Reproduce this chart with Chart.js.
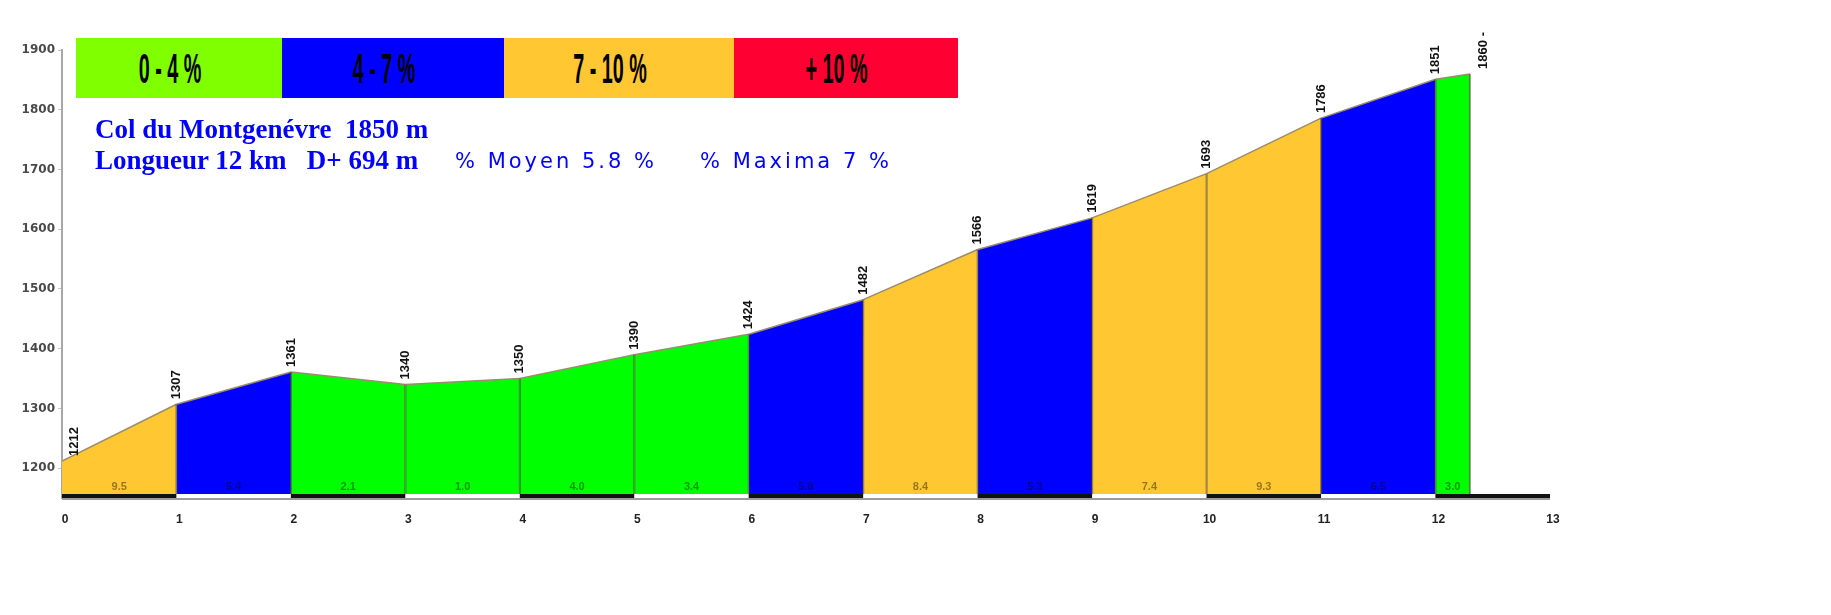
<!DOCTYPE html>
<html>
<head>
<meta charset="utf-8">
<script src="https://cdn.jsdelivr.net/npm/chart.js@4.4.1/dist/chart.umd.min.js"></script>
<style>
  html, body { margin: 0; padding: 0; background: #fff; }
  #wrap { position: relative; width: 1831px; height: 615px; overflow: hidden; }
  #profile { position: absolute; left: 0; top: 0; }
  .legend-box { position: absolute; top: 38px; height: 60px; display: flex; align-items: center; justify-content: center; overflow: hidden; }
  .legend-box span { display: inline-block; font: bold 43px 'Liberation Sans', Arial, sans-serif; color: #000; transform: scaleX(0.46); white-space: pre; margin-right: 18px; }
  .title { position: absolute; left: 95px; color: #0000ff; white-space: pre; line-height: 1; }
  .serif { font: bold 27px 'Liberation Serif', 'Times New Roman', serif; }
  .sans { font: 21px 'DejaVu Sans', sans-serif; letter-spacing: 3px; }
</style>
</head>
<body>
<div id="wrap">
  <canvas id="profile" width="1831" height="615"></canvas>
  <div id="legend"></div>
  <div class="title serif" style="top:114px">Col du Montgenévre  1850 m</div>
  <div class="title serif" style="top:145px">Longueur 12 km   D+ 694 m</div>
  <div class="title sans" style="left:455px;top:149px">% Moyen 5.8 %</div>
  <div class="title sans" style="left:700px;top:149px">% Maxima 7 %</div>
</div>
<script>
// km marks and altitude at each mark (m)
const kmMarks = [0, 1, 2, 3, 4, 5, 6, 7, 8, 9, 10, 11, 12, 12.3];
const elevations = [1212, 1307, 1361, 1340, 1350, 1390, 1424, 1482, 1566, 1619, 1693, 1786, 1851, 1860];
const elevLabels = ['1212', '1307', '1361', '1340', '1350', '1390', '1424', '1482', '1566', '1619', '1693', '1786', '1851', '1860 -'];
// average grade of each section (%)
const grades = [9.5, 5.4, 2.1, 1.0, 4.0, 3.4, 5.8, 8.4, 5.3, 7.4, 9.3, 6.5, 3.0];
const xTicks = [0, 1, 2, 3, 4, 5, 6, 7, 8, 9, 10, 11, 12, 13];
const yTicks = [1200, 1300, 1400, 1500, 1600, 1700, 1800, 1900];
const legendRanges = ['0 - 4 %', '4 - 7 %', '7 - 10 %', '+ 10 %'];

const GREEN = '#00ff00';
const BLUE = '#0000ff';
const ORANGE = '#ffc832';
const RED = '#ff0033';
const LEGEND_COLORS = ['#80ff00', BLUE, ORANGE, RED];
const LEGEND_X = [76, 282, 504, 734, 958];

function gradeColor(g) {
  if (g <= 4) return GREEN;
  if (g <= 7) return BLUE;
  if (g <= 10) return ORANGE;
  return RED;
}

// legend strip
const legendEl = document.getElementById('legend');
legendRanges.forEach((txt, i) => {
  const box = document.createElement('div');
  box.className = 'legend-box';
  box.style.left = LEGEND_X[i] + 'px';
  box.style.width = (LEGEND_X[i + 1] - LEGEND_X[i]) + 'px';
  box.style.background = LEGEND_COLORS[i];
  const s = document.createElement('span');
  s.textContent = txt;
  box.appendChild(s);
  legendEl.appendChild(box);
});

const datasets = grades.map((g, i) => ({
  data: [
    { x: kmMarks[i], y: elevations[i] },
    { x: kmMarks[i + 1], y: elevations[i + 1] },
  ],
  fill: 'start',
  backgroundColor: gradeColor(g),
  borderColor: '#9c8c6c',
  borderWidth: 1.5,
  pointRadius: 0,
  tension: 0,
}));

const profileDecor = {
  id: 'profileDecor',
  afterDatasetsDraw(chart) {
    const { ctx, chartArea, scales } = chart;
    const xs = scales.x, ys = scales.y;
    const bottom = chartArea.bottom;
    ctx.save();

    // section separators
    ctx.strokeStyle = 'rgba(70,60,30,0.55)';
    ctx.lineWidth = 2;
    kmMarks.forEach((k, i) => {
      if (i === 0) return;
      const px = xs.getPixelForValue(k);
      ctx.beginPath();
      ctx.moveTo(px, ys.getPixelForValue(elevations[i]));
      ctx.lineTo(px, bottom);
      ctx.stroke();
    });

    // km bar along the bottom
    for (let k = 0; k < xTicks.length - 1; k++) {
      const x0 = xs.getPixelForValue(xTicks[k]);
      const x1 = xs.getPixelForValue(xTicks[k + 1]);
      ctx.fillStyle = k % 2 === 0 ? '#111' : '#fff';
      ctx.fillRect(x0, bottom - 4, x1 - x0, 4);
    }
    ctx.fillStyle = '#9a9a9a';
    ctx.fillRect(xs.getPixelForValue(0), bottom, xs.getPixelForValue(13) - xs.getPixelForValue(0), 2);

    // grade labels
    ctx.font = "bold 11px 'Liberation Sans', Arial, sans-serif";
    ctx.textAlign = 'center';
    ctx.textBaseline = 'middle';
    ctx.fillStyle = 'rgba(0,0,0,0.42)';
    grades.forEach((g, i) => {
      const cx = (xs.getPixelForValue(kmMarks[i]) + xs.getPixelForValue(kmMarks[i + 1])) / 2;
      ctx.fillText(g.toFixed(1), cx, bottom - 11);
    });

    // altitude labels, vertical
    ctx.font = "bold 13px 'Liberation Sans Narrow', 'Liberation Sans', Arial, sans-serif";
    ctx.fillStyle = '#111';
    ctx.textAlign = 'left';
    elevLabels.forEach((t, i) => {
      let px = xs.getPixelForValue(kmMarks[i]);
      const py = ys.getPixelForValue(elevations[i]);
      if (i === 0) px += 12;
      if (i === elevLabels.length - 1) px += 14;
      ctx.save();
      ctx.translate(px, py - 5);
      ctx.rotate(-Math.PI / 2);
      ctx.fillText(t, 0, 0);
      ctx.restore();
    });
    ctx.restore();
  }
};

new Chart(document.getElementById('profile'), {
  type: 'line',
  data: { datasets },
  plugins: [profileDecor],
  options: {
    responsive: false,
    animation: false,
    layout: { padding: { left: 0, right: 281, top: 50, bottom: 0 } },
    plugins: { legend: { display: false }, tooltip: { enabled: false } },
    scales: {
      x: {
        type: 'linear',
        min: 0,
        max: 13,
        afterBuildTicks: (s) => { s.ticks = xTicks.map(v => ({ value: v })); },
        afterFit: (s) => { s.height = 117; },
        grid: { display: false, drawTicks: false },
        border: { display: false },
        ticks: {
          color: '#222',
          font: { family: "'Liberation Sans', Arial, sans-serif", size: 12, weight: 'bold' },
          padding: 14,
          labelOffset: 3,
          maxRotation: 0,
          callback: (v) => String(v),
        },
      },
      y: {
        min: 1150,
        max: 1900,
        afterBuildTicks: (s) => { s.ticks = yTicks.map(v => ({ value: v })); },
        afterFit: (s) => { s.width = 62; },
        grid: { display: true, drawOnChartArea: false, drawTicks: true, tickLength: 4, color: '#c4c4c4' },
        border: { display: true, color: '#a8a8a8', width: 2 },
        ticks: {
          color: '#4a4a4a',
          font: { family: "'DejaVu Sans', sans-serif", size: 12, weight: 'bold' },
          padding: 3,
          callback: (v) => String(v),
        },
      },
    },
  },
});
</script>
</body>
</html>
